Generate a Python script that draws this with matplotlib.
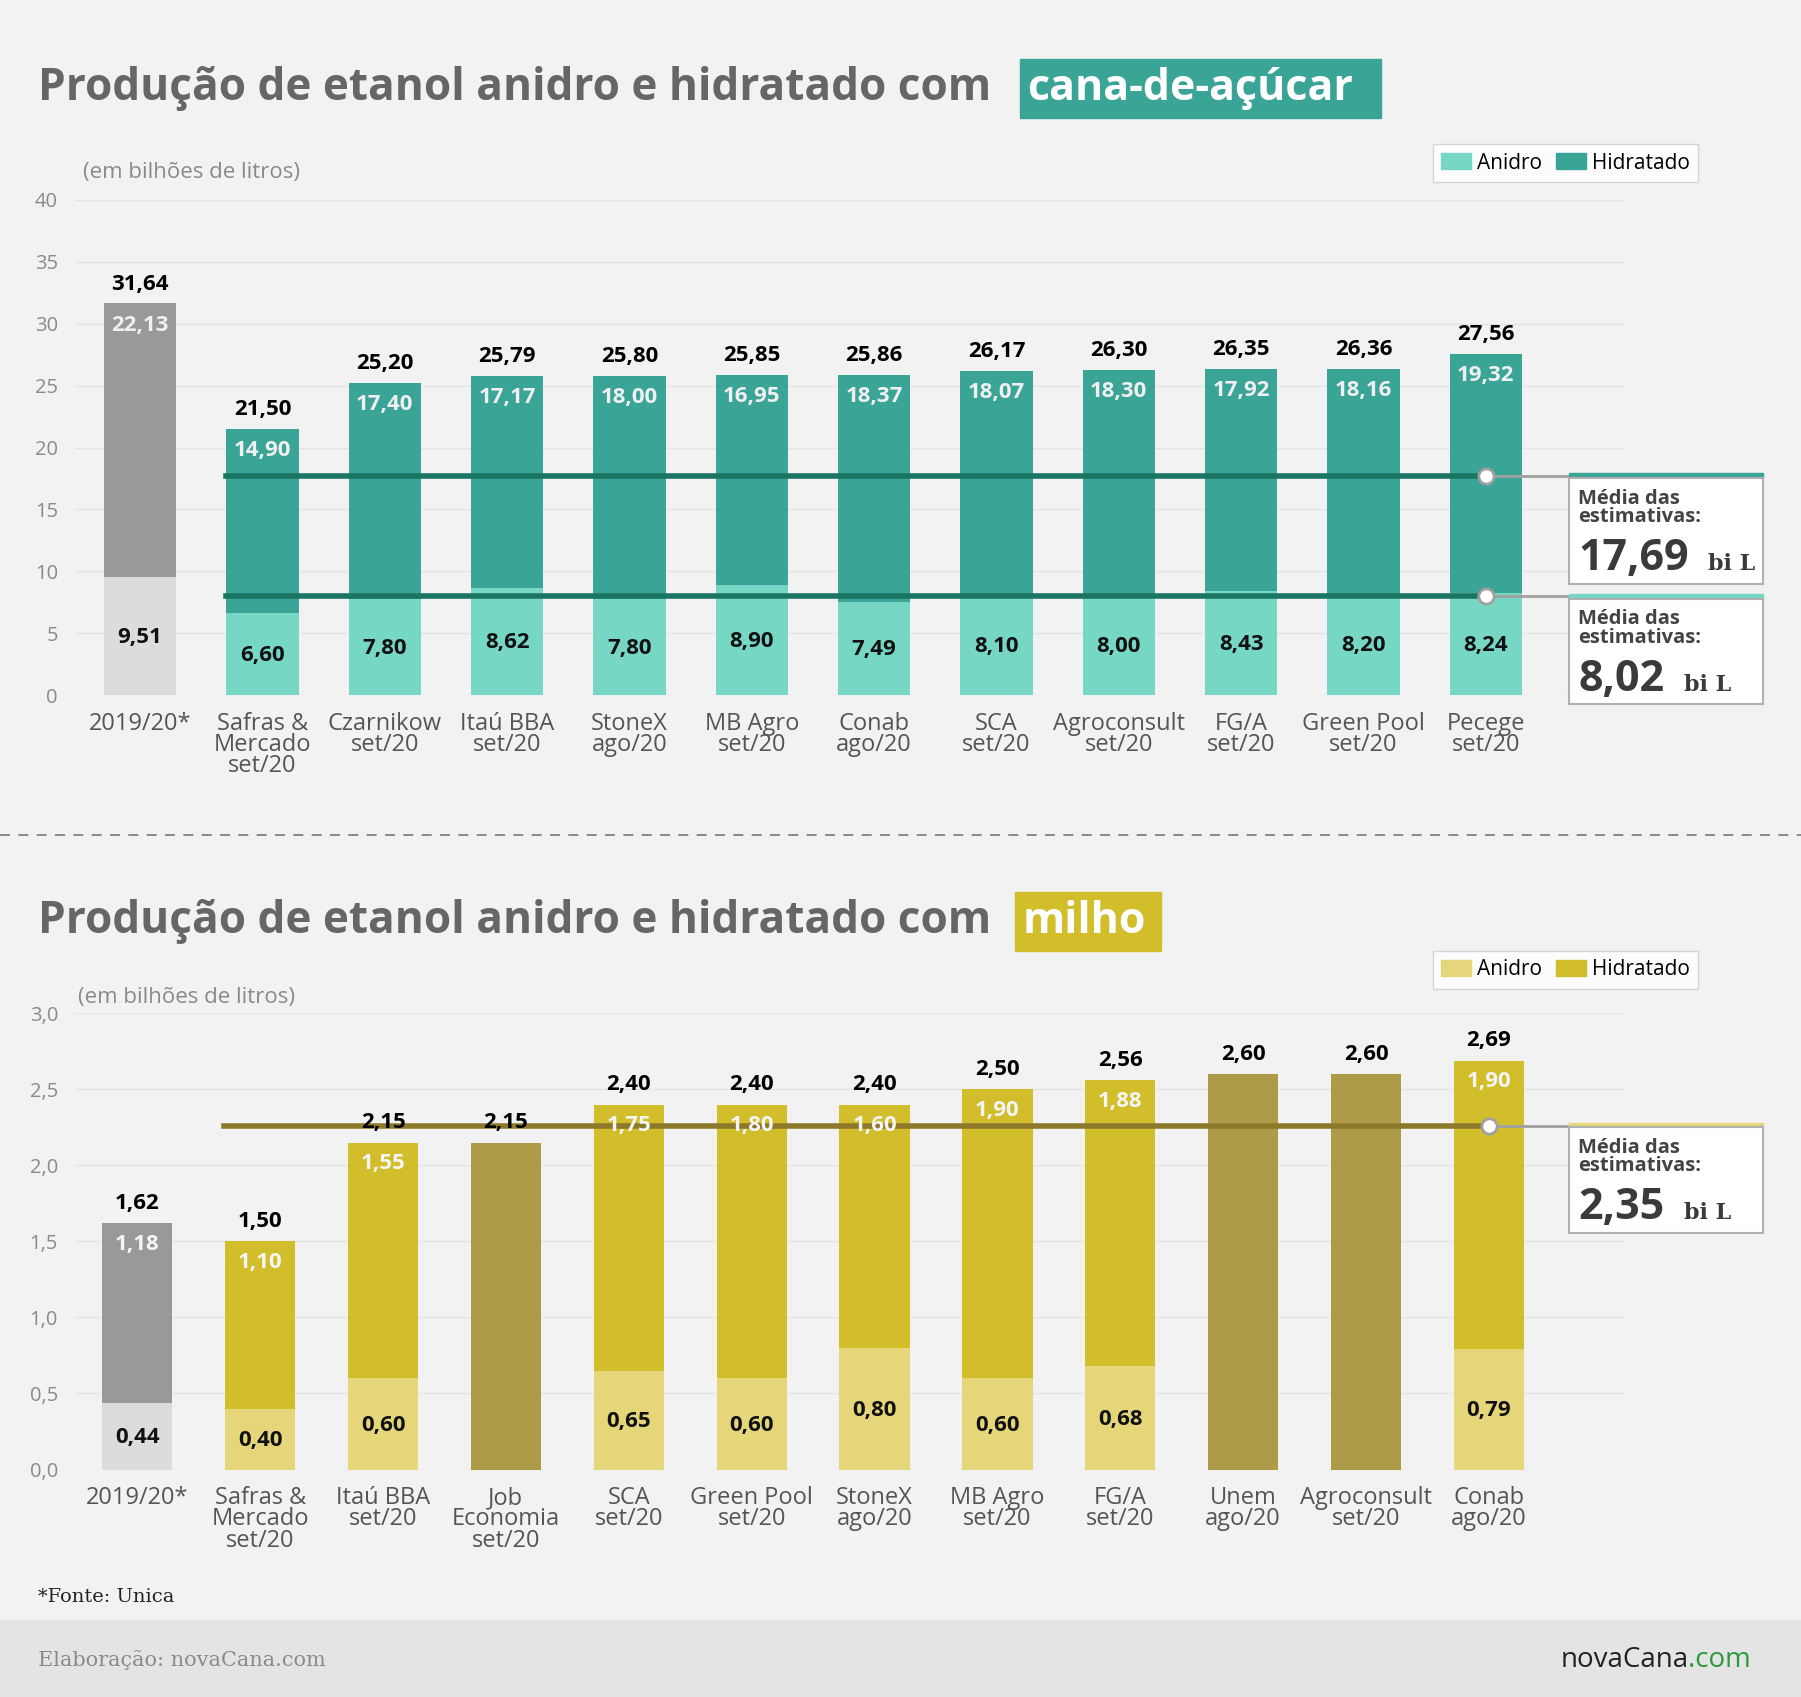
import matplotlib.pyplot as plt
from matplotlib.patches import Rectangle, Patch
import numpy as np

plt.rcParams['font.family'] = ['Open Sans', 'DejaVu Sans']

# --- dados: cana-de-açúcar ---
cana_labels = ["2019/20*", "Safras &\nMercado\nset/20", "Czarnikow\nset/20", "Itaú BBA\nset/20",
               "StoneX\nago/20", "MB Agro\nset/20", "Conab\nago/20", "SCA\nset/20",
               "Agroconsult\nset/20", "FG/A\nset/20", "Green Pool\nset/20", "Pecege\nset/20"]
cana_total = [31.64, 21.50, 25.20, 25.79, 25.80, 25.85, 25.86, 26.17, 26.30, 26.35, 26.36, 27.56]
cana_hidr = [22.13, 14.90, 17.40, 17.17, 18.00, 16.95, 18.37, 18.07, 18.30, 17.92, 18.16, 19.32]
cana_anid = [9.51, 6.60, 7.80, 8.62, 7.80, 8.90, 7.49, 8.10, 8.00, 8.43, 8.20, 8.24]
cana_media_hidr = 17.69
cana_media_anid = 8.02

# --- dados: milho ---
milho_labels = ["2019/20*", "Safras &\nMercado\nset/20", "Itaú BBA\nset/20", "Job\nEconomia\nset/20",
                "SCA\nset/20", "Green Pool\nset/20", "StoneX\nago/20", "MB Agro\nset/20",
                "FG/A\nset/20", "Unem\nago/20", "Agroconsult\nset/20", "Conab\nago/20"]
milho_total = [1.62, 1.50, 2.15, 2.15, 2.40, 2.40, 2.40, 2.50, 2.56, 2.60, 2.60, 2.69]
milho_hidr = [1.18, 1.10, 1.55, None, 1.75, 1.80, 1.60, 1.90, 1.88, None, None, 1.90]
milho_anid = [0.44, 0.40, 0.60, None, 0.65, 0.60, 0.80, 0.60, 0.68, None, None, 0.79]
milho_media = 2.35
milho_linha = 2.26  # posição em que a linha aparece no original

W, H = 1568, 1477
def fx(x): return x / W
def fy(y): return 1 - y / H

BG = "#f2f2f2"
fig = plt.figure(figsize=(18.01, 16.97), dpi=100, facecolor=BG)


def title(y, word, boxcol, x0, x1):
    fig.text(fx(33), fy(y), "Produção de etanol anidro e hidratado com", fontsize=31.8,
             fontweight="bold", color="#666666", va="center")
    fig.patches.append(Rectangle((fx(x0), fy(y + 26)), fx(x1) - fx(x0), fy(y - 26) - fy(y + 26),
                                 transform=fig.transFigure, color=boxcol, zorder=1))
    fig.text(fx(x0 + 6), fy(y), word, fontsize=31, fontweight="bold", color="white",
             va="center", zorder=2)


def media_box(ax, yval, ytop, stripcol, value, bil_x):
    ax.plot([11, 11.7], [yval, yval], color="#a0a0a0", lw=2, clip_on=False, zorder=4)
    ax.plot([11], [yval], "o", ms=11, mfc="white", mec="#a0a0a0", mew=2,
            clip_on=False, zorder=6)
    fig.patches.append(Rectangle((fx(1366), fy(ytop + 4)), fx(1535) - fx(1366), fy(ytop) - fy(ytop + 4),
                                 transform=fig.transFigure, color=stripcol, zorder=3))
    fig.patches.append(Rectangle((fx(1366), fy(ytop + 96)), fx(1535) - fx(1366), fy(ytop + 4) - fy(ytop + 96),
                                 transform=fig.transFigure, fc="white", ec="#b0b0b0", lw=1.5, zorder=3))
    fig.text(fx(1374), fy(ytop + 30), "Média das\nestimativas:", fontsize=14.5, fontweight="bold",
             color="#444444", va="center", linespacing=0.9, zorder=4)
    fig.text(fx(1374), fy(ytop + 74), value, fontsize=31, fontweight="bold", color="#3a3a3a",
             va="center", zorder=4)
    fig.text(fx(bil_x), fy(ytop + 79), "bi L", fontsize=16, fontweight="bold", color="#3a3a3a",
             va="center", family="DejaVu Serif", zorder=4)


def setup_axes(ax, ymax, step, fmt, labels):
    ax.set_facecolor(BG)
    for s in ax.spines.values():
        s.set_visible(False)
    ticks = np.arange(0, ymax + step / 2, step)
    ax.set_yticks(ticks)
    ax.set_yticklabels([fmt(t) for t in ticks], fontsize=14.5, color="#8a8a8a")
    ax.set_ylim(0, ymax)
    ax.tick_params(length=0, pad=12)
    ax.yaxis.grid(True, color="#e4e4e4", lw=1)
    ax.set_axisbelow(True)
    ax.set_xticks(range(len(labels)))
    ax.set_xticklabels(labels, fontsize=17, color="#555555", linespacing=0.85)


def fmt_br(v, d=2):
    return f"{v:.{d}f}".replace(".", ",")


def legend(y, c1, c2):
    fig.legend(handles=[Patch(color=c1, label="Anidro"), Patch(color=c2, label="Hidratado")],
               loc="center", bbox_to_anchor=(fx(1363), fy(y)), ncol=2, fontsize=15, frameon=True,
               fancybox=False, edgecolor="#cccccc", handlelength=1.4, handleheight=0.8,
               columnspacing=0.7, handletextpad=0.3, borderpad=0.4)


bw = 0.59

# ---------------- cana ----------------
title(77, "cana-de-açúcar", "#3aa597", 888, 1202)
ax1 = fig.add_axes([fx(65), fy(605), fx(1415) - fx(65), fy(174) - fy(605)])
setup_axes(ax1, 40, 5, lambda t: f"{int(t)}", cana_labels)
ax1.set_xlim(-0.535, 12.14)
x = np.arange(len(cana_labels))
anid_c = ["#dcdcdc"] + ["#76d7c4"] * 11
hidr_c = ["#999999"] + ["#3aa597"] * 11
ax1.bar(x, cana_anid, bw, color=anid_c, zorder=2)
ax1.bar(x, cana_hidr, bw, bottom=cana_anid, color=hidr_c, zorder=2)
for i in x:
    ax1.text(i, cana_total[i] + 0.7, fmt_br(cana_total[i]), ha="center", va="bottom",
             fontsize=16, fontweight="bold", color="black")
    ax1.text(i, cana_total[i] - 0.9, fmt_br(cana_hidr[i]), ha="center", va="top",
             fontsize=16, fontweight="bold", color="#f0f0f0", zorder=5)
    ax1.text(i, cana_anid[i] / 2 - 0.1, fmt_br(cana_anid[i]), ha="center", va="center",
             fontsize=16, fontweight="bold", color="#111111", zorder=5)
for v in (cana_media_hidr, cana_media_anid):
    ax1.plot([1 - bw / 2, 11], [v, v], color="#1b7563", lw=4, zorder=4)
media_box(ax1, cana_media_hidr, 412, "#3aa597", fmt_br(cana_media_hidr), 1487)
media_box(ax1, cana_media_anid, 517, "#76d7c4", fmt_br(cana_media_anid), 1466)
fig.text(fx(72), fy(150), "(em bilhões de litros)", fontsize=16, color="#8a8a8a", va="center")
legend(142, "#76d7c4", "#3aa597")

# separador
fig.add_artist(plt.Line2D([0, 1], [fy(727), fy(727)], color="#777777", lw=1.2, ls=(0, (6, 5))))

# ---------------- milho ----------------
title(802, "milho", "#d2bd2a", 884, 1011)
ax2 = fig.add_axes([fx(65), fy(1279), fx(1415) - fx(65), fy(882) - fy(1279)])
setup_axes(ax2, 3.0, 0.5, lambda t: fmt_br(t, 1), milho_labels)
ax2.set_xlim(-0.51, 12.11)
x = np.arange(len(milho_labels))
for i in x:
    if milho_anid[i] is None:
        ax2.bar(i, milho_total[i], bw * 0.97, color="#ae9b47", zorder=2)
    else:
        ca, ch = ("#dcdcdc", "#999999") if i == 0 else ("#e5d67a", "#d2bd2a")
        ax2.bar(i, milho_anid[i], bw * 0.97, color=ca, zorder=2)
        ax2.bar(i, milho_hidr[i], bw * 0.97, bottom=milho_anid[i], color=ch, zorder=2)
        ax2.text(i, milho_total[i] - 0.07, fmt_br(milho_hidr[i]), ha="center", va="top",
                 fontsize=16, fontweight="bold", color="#f5f5f5", zorder=5)
        ax2.text(i, milho_anid[i] / 2 - 0.01, fmt_br(milho_anid[i]), ha="center", va="center",
                 fontsize=16, fontweight="bold", color="#111111", zorder=5)
    ax2.text(i, milho_total[i] + 0.06, fmt_br(milho_total[i]), ha="center", va="bottom",
             fontsize=16, fontweight="bold", color="black", zorder=5)
ax2.plot([1 - bw / 2, 11], [milho_linha, milho_linha], color="#8c7a2a", lw=4, zorder=4)
media_box(ax2, milho_linha, 977, "#e5d67a", fmt_br(milho_media), 1466)
fig.text(fx(68), fy(868), "(em bilhões de litros)", fontsize=16, color="#8a8a8a", va="center")
legend(844, "#e5d67a", "#d2bd2a")

# rodapé
fig.text(fx(33), fy(1390), "*Fonte: Unica", fontsize=14, color="#222222", va="center",
         family="DejaVu Serif")
fig.patches.append(Rectangle((0, 0), 1, fy(1410), transform=fig.transFigure, color="#e4e4e4", zorder=0))
fig.text(fx(33), fy(1445), "Elaboração: novaCana.com", fontsize=15, color="#8a8a8a", va="center",
         family="DejaVu Serif")
fig.text(fx(1470), fy(1445), "novaCana", fontsize=20, color="#222222", va="center", ha="right")
fig.text(fx(1470), fy(1445), ".com", fontsize=20, color="#2a9a3a", va="center", ha="left")

fig.savefig("out.png", dpi=100, facecolor=BG)
